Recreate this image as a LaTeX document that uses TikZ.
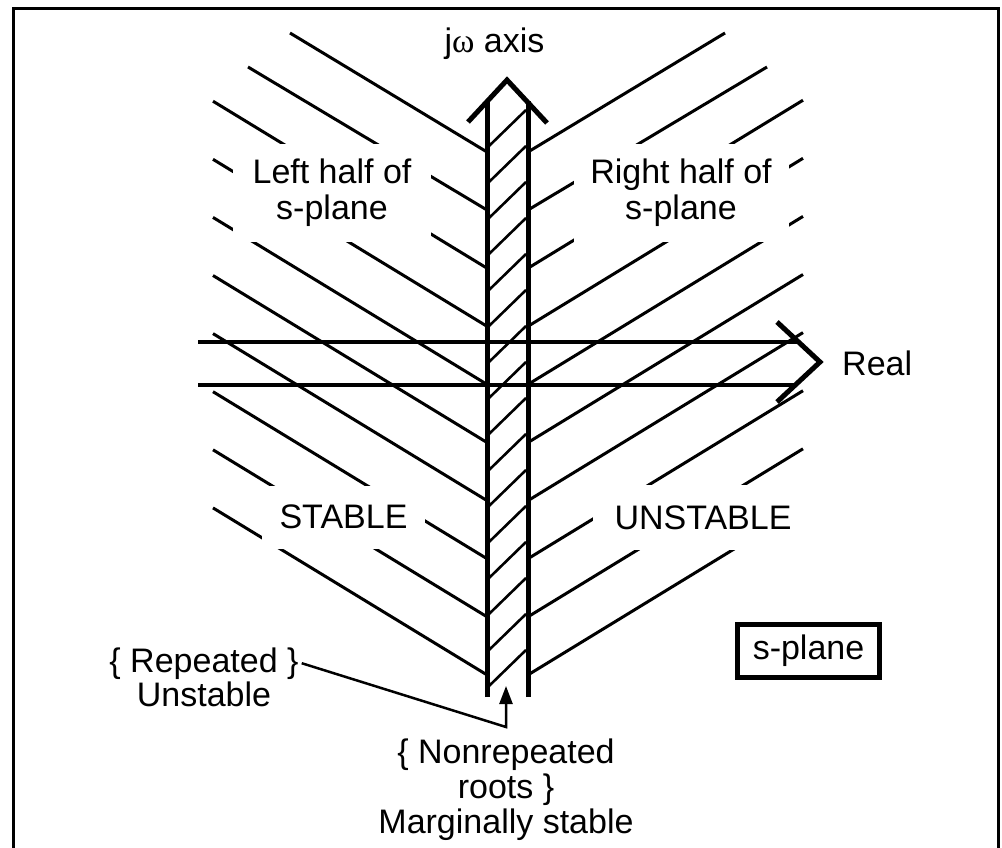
\documentclass[tikz,border=0pt]{standalone}
\usepackage{fontspec}
\setmainfont{Liberation Sans}
\newfontfamily\serifgreek{Liberation Serif}
\usetikzlibrary{arrows.meta}
\begin{document}
\begin{tikzpicture}[x=1pt,y=-1pt,
  hatch/.style={line width=3pt},
  striphatch/.style={line width=2.6pt},
  axisline/.style={line width=5pt},
  realline/.style={line width=4.5pt},
  lbl/.style={font=\fontsize{34}{36}\selectfont, inner sep=0pt},
  mask/.style={lbl, fill=white, align=center},
  leader/.style={line width=2.5pt, -{Triangle[length=18pt,width=13pt]}},
]
\useasboundingbox (0,0) rectangle (1002,848);
% frame
\draw[line width=3pt] (13,848) -- (13,9) -- (998,9) -- (998,848);
% left half hatching
\draw[hatch] (290,33) -- (487,152);
\draw[hatch] (248,67) -- (487,210);
\foreach \k in {3,...,10} {
  \pgfmathsetmacro\yy{152+58.1*(\k-1)}
  \draw[hatch] (213,{\yy-167}) -- (487,\yy);
}
% right half hatching
\draw[hatch] (528,152) -- (725,33);
\draw[hatch] (528,210) -- (767,67);
\foreach \k in {3,...,10} {
  \pgfmathsetmacro\yy{152+58.1*(\k-1)}
  \draw[hatch] (528,\yy) -- (803,{\yy-168});
}
% hatching inside the jw axis strip
\foreach \k in {0,...,15} {
  \draw[striphatch] (489,{146+36*\k}) -- (526,{110+36*\k});
}
% region labels (white background cuts the hatching)
\node[mask, minimum width=198pt, minimum height=98pt] (lh) at (332,193) {Left half of\\s-plane};
\node[mask, minimum width=215pt, minimum height=98pt] (rh) at (681,193) {Right half of\\s-plane};
\node[mask, minimum width=163pt, minimum height=63pt] (st) at (343.5,517) {STABLE};
\node[mask, minimum width=220pt, minimum height=65pt] (un) at (703,517.5) {UNSTABLE};
% jw axis
\draw[axisline] (487,697) -- (487,101);
\draw[axisline] (528,697) -- (528,101);
\draw[axisline, line join=miter] (468,122) -- (507,80) -- (547,123);
% real axis
\draw[realline] (198,342) -- (799,342);
\draw[realline] (198,385) -- (795,385);
\draw[axisline, line join=miter] (777,322) -- (820,362) -- (777,402);
% labels
\node[lbl, anchor=base] (jw) at (494.5,53) {j{\serifgreek ω} axis};
\node[lbl, anchor=base west] (re) at (842,375) {Real};
\node[lbl, anchor=base] (rep1) at (204,672) {\{ Repeated \}};
\node[lbl, anchor=base] (rep2) at (204,706) {Unstable};
\node[lbl, anchor=base] (nr1) at (506,763) {\{ Nonrepeated};
\node[lbl, anchor=base] (nr2) at (506,798) {roots \}};
\node[lbl, anchor=base] (nr3) at (506,833) {Marginally stable};
\node[lbl, draw, line width=5pt, minimum width=142pt, minimum height=53pt] (sp) at (808.5,651) {s-plane};
% leader to the axis
\coordinate (corner) at (506,727);
\coordinate (tip) at (506,686);
\draw[leader] ([xshift=3pt]rep1.east) -- (corner) -- (tip);
\end{tikzpicture}
\end{document}
